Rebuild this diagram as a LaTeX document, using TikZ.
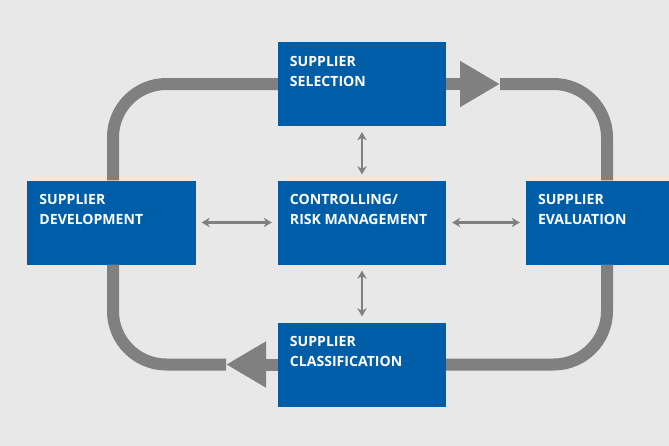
\documentclass[tikz,border=0pt]{standalone}
\usepackage{fontspec}
\setmainfont{Open Sans}
\usetikzlibrary{arrows.meta, positioning}
\definecolor{boxblue}{RGB}{0,94,168}
\definecolor{loopgrey}{RGB}{128,128,128}
\definecolor{bggrey}{RGB}{232,232,232}

\begin{document}
\begin{tikzpicture}[
    x=0.03cm, y=-0.03cm,
    stage/.style={rectangle, fill=boxblue, minimum width=5.04cm, minimum height=2.52cm, inner sep=0pt},
    stagetext/.style={anchor=north west, text=white, align=left, inner sep=0pt, font=\fontsize{12}{17}\selectfont\bfseries},
    cycleline/.style={draw=loopgrey, line width=0.36cm, rounded corners=1.6cm},
    cycletip/.style={draw=loopgrey, line width=0.36cm, -{Triangle[length=1.2cm, width=1.3cm]}},
    link/.style={draw=loopgrey, line width=2.2pt, {Stealth[length=7pt, width=8pt]}-{Stealth[length=7pt, width=8pt]}, shorten <=5pt, shorten >=5pt}
]
\fill[bggrey] (0,0) rectangle (669,446);
\useasboundingbox (0,0) rectangle (669,446);

% boxes
\node[stage] (sel) at (362,84) {};
\node[stage] (ctrl) at (362,222.5) {};
\node[stage] (dev) at (111.5,222.5) {};
\node[stage, minimum width=4.29cm] (eval) at (597.5,222.5) {};
\node[stage] (cls) at (362,364.5) {};

\node[stagetext] at ([xshift=0.36cm, yshift=-0.42cm]sel.north west) {SUPPLIER\\SELECTION};
\node[stagetext] at ([xshift=0.36cm, yshift=-0.42cm]ctrl.north west) {CONTROLLING/\\RISK MANAGEMENT};
\node[stagetext] at ([xshift=0.36cm, yshift=-0.42cm]dev.north west) {SUPPLIER\\DEVELOPMENT};
\node[stagetext] at ([xshift=0.36cm, yshift=-0.42cm]eval.north west) {SUPPLIER\\EVALUATION};
\node[stagetext] at ([xshift=0.36cm, yshift=-0.42cm]cls.north west) {SUPPLIER\\CLASSIFICATION};

% outer cycle
\coordinate (tipr) at (500,84);
\coordinate (tipl) at (226,364.5);
\draw[cycletip] (sel.east) -- (tipr);
\draw[cycleline] (tipr) -- (607,84) -- (eval.north -| 607,0);
\draw[cycleline] (eval.south -| 607,0) -- (607,364.5) -- (cls.east);
\draw[cycletip] (cls.west) -- (tipl);
\draw[cycleline] (tipl) -- (113,364.5) -- (dev.south -| 113,0);
\draw[cycleline] (dev.north -| 113,0) -- (113,84) -- (sel.west);

% links to controlling
\draw[link] (sel) -- (ctrl);
\draw[link] (ctrl) -- (cls);
\draw[link] (dev) -- (ctrl);
\draw[link] (ctrl) -- (eval);
\end{tikzpicture}
\end{document}
